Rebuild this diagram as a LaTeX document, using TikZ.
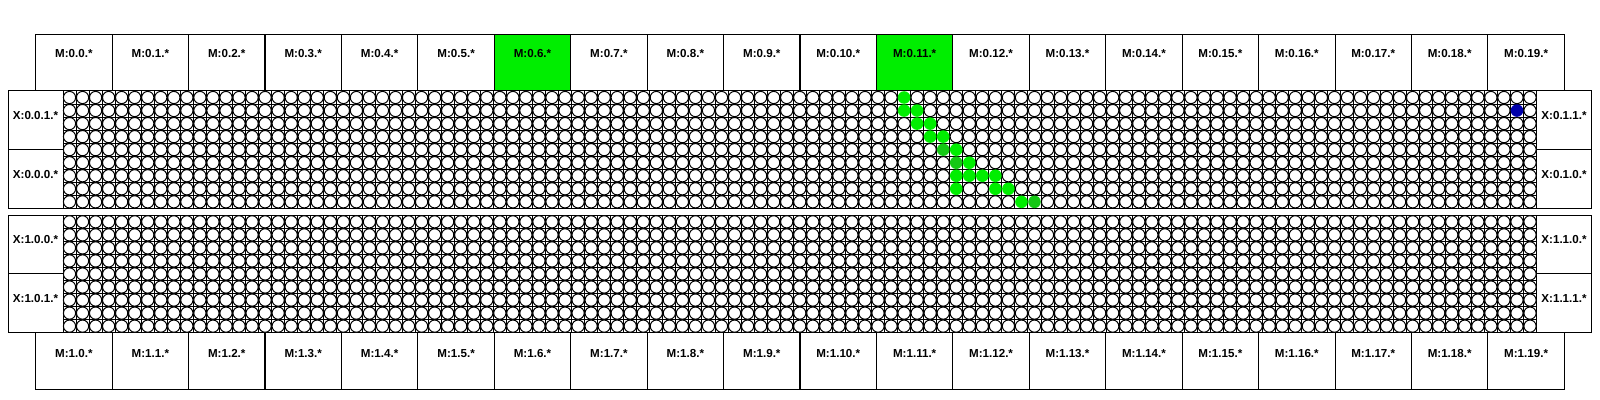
\documentclass[tikz,border=0pt]{standalone}
\usepackage{fontspec}
\usepackage{xstring}
\setmainfont{Liberation Sans}
\definecolor{pathgreen}{RGB}{0,238,0}
\definecolor{pathdark}{RGB}{20,200,20}
\definecolor{hitblue}{RGB}{0,0,170}
% cells that carry a coloured dot instead of an empty ring
\def\pathcells{,0:0/64,0:1/64,0:1/65,0:2/65,0:2/66,0:3/66,0:3/67,0:4/67,0:4/68,0:5/68,0:5/69,0:6/68,0:6/69,0:6/70,0:6/71,0:7/68,0:7/71,0:7/72,0:8/73,0:8/74,0:1/111,}
\begin{document}
\begin{tikzpicture}[x=0.5pt,y=-0.5pt]
    \tikzset{
        mbox/.style={draw, line width=0.5pt, minimum width=38.2pt, minimum height=28.35pt, inner sep=0pt},
        xbox/.style={draw, line width=0.5pt, minimum width=27.5pt, minimum height=29.34pt, inner sep=0pt},
        lbl/.style={font=\fontsize{5.8}{7}\selectfont\bfseries, inner sep=0pt},
        gridline/.style={line width=0.5pt},
        cell/.style={draw=black, fill=white, line width=0.5pt},
        dot/.style={fill=white}
    }
    \useasboundingbox (0,0) rectangle (1600,400);

    % memory columns, top and bottom
    \foreach \i in {0,...,19}{
        \pgfmathsetmacro\mx{35.7+76.43*(\i+0.5)}
        \ifnum\i=6 \def\fc{pathgreen}\else\ifnum\i=11 \def\fc{pathgreen}\else\def\fc{white}\fi\fi
        \node[mbox, fill=\fc] (mt\i) at (\mx,62.65) {};
        \node[lbl] (mt\i-t) at (\mx,53.3) {M:0.\i.*};
        \node[mbox] (mb\i) at (\mx,361.0) {};
        \node[lbl] (mb\i-t) at (\mx,353.5) {M:1.\i.*};
    }

    % side ports
    \foreach \nm/\x/\y/\txt in {%
        x001/35.5/91/{X:0.0.1.*}, x000/35.5/149.68/{X:0.0.0.*},%
        x011/1564/91/{X:0.1.1.*}, x010/1564/149.68/{X:0.1.0.*},%
        x100/35.5/215.3/{X:1.0.0.*}, x101/35.5/273.98/{X:1.0.1.*},%
        x110/1564/215.3/{X:1.1.0.*}, x111/1564/273.98/{X:1.1.1.*}%
    }{
        \node[xbox] (\nm) at (\x,{\y+29.34}) {};
        \node[lbl] (\nm-t) at (\x,{\y+24.5}) {\txt};
    }

    % the two arrays of cells
    \foreach \b/\t in {0/91,1/215.3}{
        \foreach \r in {0,...,9}
            \draw[gridline] (63,{\t+\r*13.04}) -- (1536.5,{\t+\r*13.04});
        \foreach \c in {0,...,113}
            \draw[gridline] ({63+\c*13.04},\t) -- ({63+\c*13.04},{\t+117.36});
        \foreach \r in {0,...,8}
            \foreach \c in {0,...,112}{
                \IfSubStr{\pathcells}{,\b:\r/\c,}{}{%
                    \draw[cell] ({63+(\c+0.5)*13.04},{\t+(\r+0.5)*13.04}) circle[radius=3.05pt];}
            }
    }

    % routed path
    \foreach \r/\c/\col in {%
        0/64/pathgreen, 1/64/pathgreen, 1/65/pathgreen, 2/65/pathgreen, 2/66/pathgreen,%
        3/66/pathgreen, 3/67/pathgreen, 4/67/pathdark, 4/68/pathgreen, 5/68/pathdark,%
        5/69/pathgreen, 6/68/pathgreen, 6/69/pathgreen, 6/70/pathgreen, 6/71/pathgreen,%
        7/68/pathgreen, 7/71/pathgreen, 7/72/pathgreen, 8/73/pathgreen, 8/74/pathdark%
    }{
        \fill[dot, fill=\col] ({63+(\c+0.5)*13.04},{91+(\r+0.5)*13.04}) circle[radius=3.15pt];
    }
    \fill[dot, fill=hitblue] ({63+111.5*13.04},{91+1.5*13.04}) circle[radius=3.15pt];
\end{tikzpicture}
\end{document}
